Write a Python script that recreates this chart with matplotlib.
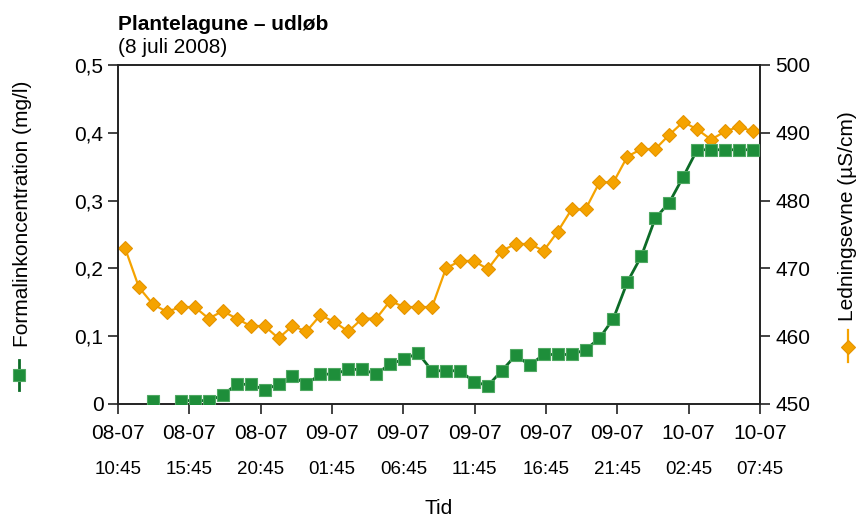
import numpy as np
import matplotlib
matplotlib.use("Agg")
import matplotlib.pyplot as plt
from matplotlib.lines import Line2D

plt.rcParams['font.family'] = ['Liberation Sans', 'DejaVu Sans']

# hourly samples, 46 in total (index 0..45)
nan = np.nan
formalin = [nan, nan, 0.005, nan, 0.005, 0.005, 0.005, 0.013, 0.029, 0.029,
            0.021, 0.029, 0.041, 0.029, 0.044, 0.044, 0.051, 0.051, 0.044, 0.059,
            0.066, 0.075, 0.049, 0.049, 0.049, 0.033, 0.027, 0.049, 0.072, 0.057,
            0.073, 0.073, 0.073, 0.080, 0.097, 0.126, 0.180, 0.218, 0.274, 0.297,
            0.335, 0.375, 0.375, 0.375, 0.375, 0.375]
ledning = [473.0, 467.2, 464.7, 463.6, 464.3, 464.3, 462.6, 463.7, 462.6, 461.5,
           461.5, 459.7, 461.5, 460.7, 463.1, 462.1, 460.7, 462.6, 462.6, 465.2,
           464.3, 464.3, 464.3, 470.0, 471.1, 471.1, 469.9, 472.6, 473.6, 473.6,
           472.6, 475.4, 478.7, 478.7, 482.7, 482.7, 486.5, 487.6, 487.6, 489.7,
           491.6, 490.5, 489.0, 490.2, 490.9, 490.2]

date_labels = ['08-07', '08-07', '08-07', '09-07', '09-07', '09-07',
               '09-07', '09-07', '10-07', '10-07']
time_labels = ['10:45', '15:45', '20:45', '01:45', '06:45', '11:45',
               '16:45', '21:45', '02:45', '07:45']
left_ticks = [0, 0.1, 0.2, 0.3, 0.4, 0.5]
left_labels = ['0', '0,1', '0,2', '0,3', '0,4', '0,5']
right_ticks = [450, 460, 470, 480, 490, 500]

GREEN = '#1E8E3A'
GREEN_LINE = '#0C6B27'
ORANGE = '#F5A300'
SPINE = '#222222'

x = np.arange(len(ledning))

fig = plt.figure(figsize=(8.59, 5.17), dpi=100)
ax = fig.add_axes([0.1374, 0.2186, 0.7473, 0.6557])
ax2 = ax.twinx()

ax2.plot(x, ledning, color=ORANGE, lw=1.6, marker='D', ms=7.3,
         mfc=ORANGE, mec='#E59400', mew=0.8, zorder=3)
ax.plot(x, formalin, color=GREEN_LINE, lw=2, marker='s', ms=8,
        mfc=GREEN, mec='#4FA862', mew=0.8, zorder=3)
ax.set_zorder(ax2.get_zorder() + 1)
ax.patch.set_visible(False)

ax.set_xlim(-0.5, len(x) - 0.5)
ax.set_ylim(0, 0.5)
ax2.set_ylim(450, 500)

xt = np.linspace(-0.5, len(x) - 0.5, len(date_labels))
ax.set_xticks(xt)
ax.set_xticklabels(date_labels, fontsize=15)
for t, lab in zip(xt, time_labels):
    ax.annotate(lab, xy=(t, 0), xycoords=('data', 'axes fraction'),
                xytext=(0, -47), textcoords='offset points',
                ha='center', va='center', fontsize=13.5)

ax.set_yticks(left_ticks)
ax.set_yticklabels(left_labels, fontsize=15)
ax2.set_yticks(right_ticks)
ax2.set_yticklabels([str(v) for v in right_ticks], fontsize=15)

for a in (ax, ax2):
    for s in a.spines.values():
        s.set_color(SPINE)
        s.set_linewidth(1.2)
    a.tick_params(colors=SPINE, labelcolor='black', width=1.2, length=7.5)
ax.tick_params(axis='x', pad=7)
ax.tick_params(axis='y', pad=3)
ax2.tick_params(axis='y', pad=3.5)

ax.set_xlabel('Tid', fontsize=15, labelpad=40)

# rotated axis titles with their legend glyphs underneath
fig.text(0.026, 0.586, 'Formalinkoncentration (mg/l)', rotation=90,
         ha='center', va='center', fontsize=15)
fig.add_artist(Line2D([0.022, 0.022], [1 - 390 / 517, 1 - 360 / 517],
                      transform=fig.transFigure, color=GREEN_LINE, lw=2))
fig.add_artist(Line2D([0.022], [1 - 375 / 517], transform=fig.transFigure,
                      marker='s', ms=8, mfc=GREEN, mec='#4FA862', mew=0.8))

fig.text(0.987, 0.581, 'Ledningsevne (µS/cm)', rotation=90,
         ha='center', va='center', fontsize=15)
fig.add_artist(Line2D([0.987, 0.987], [1 - 362 / 517, 1 - 330 / 517],
                      transform=fig.transFigure, color=ORANGE, lw=1.6))
fig.add_artist(Line2D([0.987], [1 - 347 / 517], transform=fig.transFigure,
                      marker='D', ms=7.3, mfc=ORANGE, mec='#E59400', mew=0.8))

fig.text(0.1374, 1 - 30 / 517, 'Plantelagune – udløb', fontsize=15,
         fontweight='bold', ha='left', va='baseline')
fig.text(0.1374, 1 - 53 / 517, '(8 juli 2008)', fontsize=15,
         ha='left', va='baseline')

fig.savefig('out.png', dpi=100)
